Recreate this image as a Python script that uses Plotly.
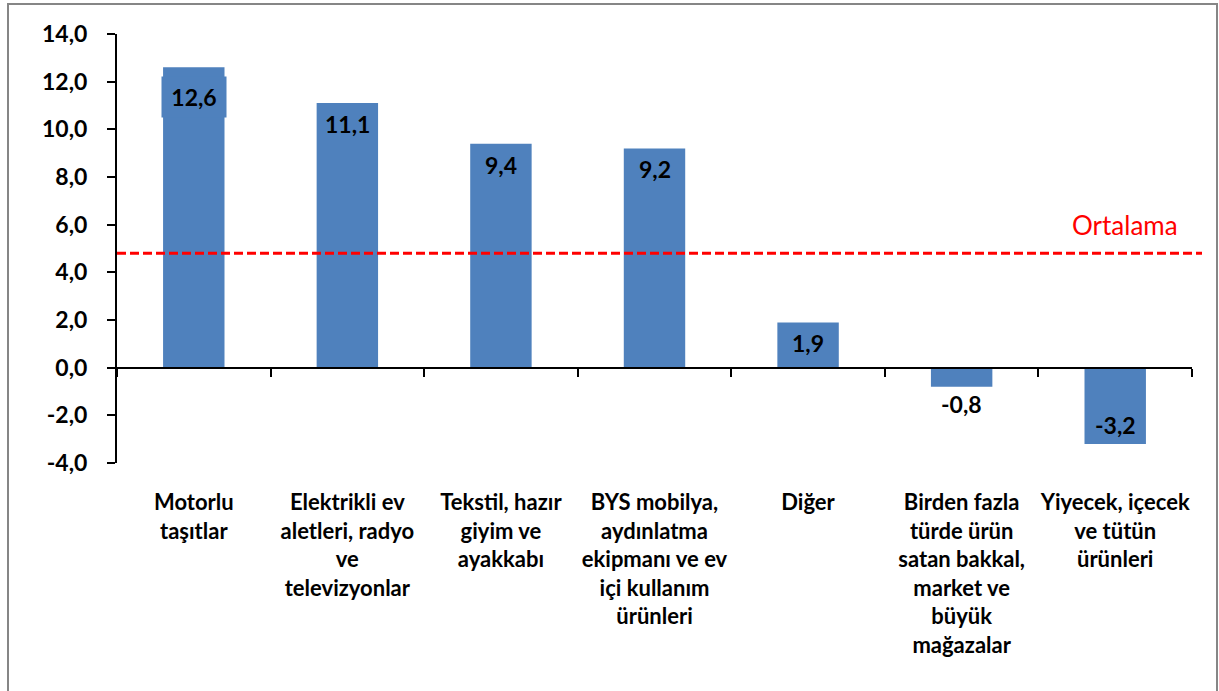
import plotly.graph_objects as go

categories = [
    "Motorlu<br>taşıtlar",
    "Elektrikli ev<br>aletleri, radyo<br>ve<br>televizyonlar",
    "Tekstil, hazır<br>giyim ve<br>ayakkabı",
    "BYS mobilya,<br>aydınlatma<br>ekipmanı ve ev<br>içi kullanım<br>ürünleri",
    "Diğer",
    "Birden fazla<br>türde ürün<br>satan bakkal,<br>market ve<br>büyük<br>mağazalar",
    "Yiyecek, içecek<br>ve tütün<br>ürünleri",
]
values = [12.6, 11.1, 9.4, 9.2, 1.9, -0.8, -3.2]
average_value = 4.8
average_label = "Ortalama"
y_ticks = [-4, -2, 0, 2, 4, 6, 8, 10, 12, 14]

FONT = "Lato"
BAR_COLOR = "#4F81BD"
n = len(categories)
idx = list(range(n))


def fmt(v):
    return f"{v:.1f}".replace(".", ",")


fig = go.Figure()
fig.add_trace(go.Bar(
    x=idx, y=values,
    marker=dict(color=BAR_COLOR, line=dict(width=0)),
    width=0.4,
    hoverinfo="skip",
))

# invisible trace so that the zero-level category axis (x2) is rendered
fig.add_trace(go.Scatter(
    x=idx, y=values, mode="markers", marker=dict(opacity=0, size=1),
    xaxis="x2", hoverinfo="skip",
))

# data labels
for i, v in enumerate(values):
    if v >= 0:
        shift = -30 if i == 0 else -21
    elif abs(v) < 1.5:
        shift = -17
    else:
        shift = 19
    fig.add_annotation(
        x=i, y=v, xref="x", yref="y", text=fmt(v), showarrow=False,
        yshift=shift, yanchor="middle",
        font=dict(family=FONT, size=23, color="black", weight="bold"),
        bgcolor=BAR_COLOR if i == 0 else "rgba(0,0,0,0)",
        borderpad=6 if i == 0 else 0,
        width=52 if i == 0 else None,
    )

fig.add_annotation(
    x=n - 0.5, y=average_value, xref="x", yref="y",
    text=average_label, showarrow=False, xanchor="right", yanchor="bottom",
    xshift=-12, yshift=10, font=dict(family=FONT, size=26, color="#FF0000"),
)

fig.update_layout(
    width=1219, height=691,
    margin=dict(l=117, r=27, t=34, b=228),
    paper_bgcolor="white", plot_bgcolor="white",
    showlegend=False,
    separators=",.",
    xaxis=dict(
        range=[-0.5, n - 0.5], tickmode="array", tickvals=idx, ticktext=categories,
        showline=False, ticks="", showgrid=False, zeroline=False,
        tickfont=dict(family=FONT, size=22, color="black", weight="bold"),
        ticklabelstandoff=24,
    ),
    xaxis2=dict(
        overlaying="x", anchor="free", position=(0 - y_ticks[0]) / (y_ticks[-1] - y_ticks[0]),
        side="bottom",
        range=[-0.5, n - 0.5], tickmode="array",
        tickvals=[i - 0.5 for i in range(n + 1)],
        showticklabels=False, ticks="outside", ticklen=8, tickwidth=2, tickcolor="black",
        showline=True, linecolor="black", linewidth=2, showgrid=False, zeroline=False,
    ),
    yaxis=dict(
        range=[y_ticks[0], y_ticks[-1]], tickmode="array", tickvals=y_ticks,
        ticktext=[fmt(t) for t in y_ticks],
        showline=True, linecolor="black", linewidth=2,
        ticks="outside", ticklen=8, tickwidth=2, tickcolor="black",
        showgrid=False, zeroline=False,
        tickfont=dict(family=FONT, size=23, color="black", weight="bold"),
        ticklabelstandoff=15,
    ),
    shapes=[
        dict(
            type="rect", xref="paper", yref="paper",
            x0=(8 - 117) / 1075, x1=(1217 - 117) / 1075,
            y0=(463 - 694) / 429, y1=(463 - 4) / 429,
            line=dict(color="#868686", width=2), fillcolor="rgba(0,0,0,0)", layer="below",
        ),
        dict(
            type="line", xref="paper", yref="y",
            x0=0, x1=(1202 - 117) / 1075, y0=average_value, y1=average_value,
            line=dict(color="#FF0000", width=3, dash="9px,4px"), layer="above",
        ),
    ],
)

fig.write_html("out.html", config={"displayModeBar": False},
               post_script="document.body.style.margin='0';")
